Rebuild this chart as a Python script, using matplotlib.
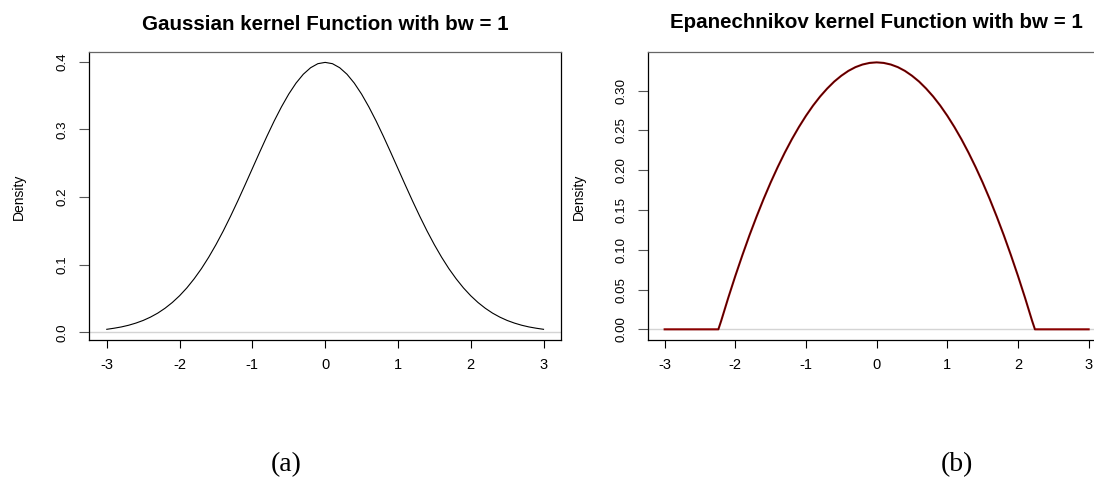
import matplotlib
matplotlib.use("Agg")
import matplotlib.pyplot as plt

# ---- data ----
gauss_x = [-3.0, -2.9, -2.8, -2.7, -2.6, -2.5, -2.4, -2.3, -2.2, -2.1, -2.0,
           -1.9, -1.8, -1.7, -1.6, -1.5, -1.4, -1.3, -1.2, -1.1, -1.0,
           -0.9, -0.8, -0.7, -0.6, -0.5, -0.4, -0.3, -0.2, -0.1, 0.0,
           0.1, 0.2, 0.3, 0.4, 0.5, 0.6, 0.7, 0.8, 0.9, 1.0,
           1.1, 1.2, 1.3, 1.4, 1.5, 1.6, 1.7, 1.8, 1.9, 2.0,
           2.1, 2.2, 2.3, 2.4, 2.5, 2.6, 2.7, 2.8, 2.9, 3.0]
gauss_y = [0.0044, 0.0060, 0.0079, 0.0104, 0.0136, 0.0175, 0.0224, 0.0283,
           0.0355, 0.0440, 0.0540, 0.0656, 0.0790, 0.0940, 0.1109, 0.1295,
           0.1497, 0.1714, 0.1942, 0.2179, 0.2420, 0.2661, 0.2897, 0.3123,
           0.3332, 0.3521, 0.3683, 0.3814, 0.3910, 0.3970, 0.3989,
           0.3970, 0.3910, 0.3814, 0.3683, 0.3521, 0.3332, 0.3123, 0.2897,
           0.2661, 0.2420, 0.2179, 0.1942, 0.1714, 0.1497, 0.1295, 0.1109,
           0.0940, 0.0790, 0.0656, 0.0540, 0.0440, 0.0355, 0.0283, 0.0224,
           0.0175, 0.0136, 0.0104, 0.0079, 0.0060, 0.0044]

epan_x = [-3.0, -2.24, -2.2, -2.1, -2.0, -1.9, -1.8, -1.7, -1.6, -1.5, -1.4,
          -1.3, -1.2, -1.1, -1.0, -0.9, -0.8, -0.7, -0.6, -0.5, -0.4, -0.3,
          -0.2, -0.1, 0.0, 0.1, 0.2, 0.3, 0.4, 0.5, 0.6, 0.7, 0.8, 0.9, 1.0,
          1.1, 1.2, 1.3, 1.4, 1.5, 1.6, 1.7, 1.8, 1.9, 2.0, 2.1, 2.2, 2.24,
          3.0]
epan_y = [0.0, 0.0, 0.0107, 0.0396, 0.0671, 0.0932, 0.1181, 0.1415, 0.1637,
          0.1845, 0.2039, 0.2220, 0.2388, 0.2542, 0.2683, 0.2811, 0.2925,
          0.3025, 0.3113, 0.3186, 0.3247, 0.3294, 0.3327, 0.3347, 0.3354,
          0.3347, 0.3327, 0.3294, 0.3247, 0.3186, 0.3113, 0.3025, 0.2925,
          0.2811, 0.2683, 0.2542, 0.2388, 0.2220, 0.2039, 0.1845, 0.1637,
          0.1415, 0.1181, 0.0932, 0.0671, 0.0396, 0.0107, 0.0, 0.0]

x_ticks = [-3, -2, -1, 0, 1, 2, 3]
gauss_yticks = [0.0, 0.1, 0.2, 0.3, 0.4]
gauss_yticklabels = ["0.0", "0.1", "0.2", "0.3", "0.4"]
epan_yticks = [0.00, 0.05, 0.10, 0.15, 0.20, 0.25, 0.30]
epan_yticklabels = ["0.00", "0.05", "0.10", "0.15", "0.20", "0.25", "0.30"]

titles = ["Gaussian kernel Function with bw = 1",
          "Epanechnikov kernel Function with bw = 1"]
ylabel = "Density"
captions = ["(a)", "(b)"]

# ---- figure ----
W, H = 1094, 478
fig = plt.figure(figsize=(W / 100, H / 100), dpi=100)
plt.rcParams['font.family'] = ['Liberation Sans', 'DejaVu Sans']

bottom = 1 - 340 / H
height = (340 - 51.7) / H
ax1 = fig.add_axes([89.3 / W, bottom, (561 - 89.3) / W, height])
ax2 = fig.add_axes([647.7 / W, bottom, (1105.6 - 647.7) / W, height])


def style(ax, yticks, yticklabels, ylim):
    ax.set_xlim(-3.24, 3.24)
    ax.set_ylim(*ylim)
    ax.set_xticks(x_ticks)
    ax.set_xticklabels([str(v) if v >= 0 else "-" + str(-v) for v in x_ticks])
    ax.set_yticks(yticks)
    ax.set_yticklabels(yticklabels, rotation=90, va='center')
    ax.tick_params(axis='x', direction='out', length=6, width=0.8,
                   pad=7, labelsize=10.5, color='black')
    ax.tick_params(axis='y', direction='out', length=7.2, width=0.8,
                   pad=7.5, labelsize=9.6, color='#555555')
    for s in ['left', 'bottom', 'right']:
        ax.spines[s].set_color('black')
        ax.spines[s].set_linewidth(0.9)
    ax.spines['top'].set_color('#666666')
    ax.spines['top'].set_linewidth(0.9)
    ax.axhline(0, color='#d4d4d4', lw=1.0, zorder=1)


style(ax1, gauss_yticks, gauss_yticklabels, (-0.0114, 0.4147))
style(ax2, epan_yticks, epan_yticklabels, (-0.0134, 0.3488))

ax1.plot(gauss_x, gauss_y, color='black', lw=0.8, zorder=3)
ax2.plot(epan_x, epan_y, color='#8b0000', lw=1.5, zorder=3)
ax2.plot(epan_x[1:-1], epan_y[1:-1], color='black', lw=0.5, alpha=0.6, zorder=4)

# titles
fig.text(325 / W, 1 - 24 / H, titles[0], ha='center', va='center',
         fontsize=14.8, fontweight='bold')
fig.text(876 / W, 1 - 23 / H, titles[1], ha='center', va='center',
         fontsize=14.8, fontweight='bold')

# y labels
fig.text(18.5 / W, 1 - 197 / H, ylabel, rotation=90, ha='center',
         va='center', fontsize=10)
fig.text(578.5 / W, 1 - 197 / H, ylabel, rotation=90, ha='center',
         va='center', fontsize=10)

# captions
fig.text(286 / W, 1 - 465 / H, captions[0], ha='center', va='center',
         fontsize=20, family='Liberation Serif')
fig.text(957 / W, 1 - 465 / H, captions[1], ha='center', va='center',
         fontsize=20, family='Liberation Serif')

fig.savefig("out.png", dpi=100)
